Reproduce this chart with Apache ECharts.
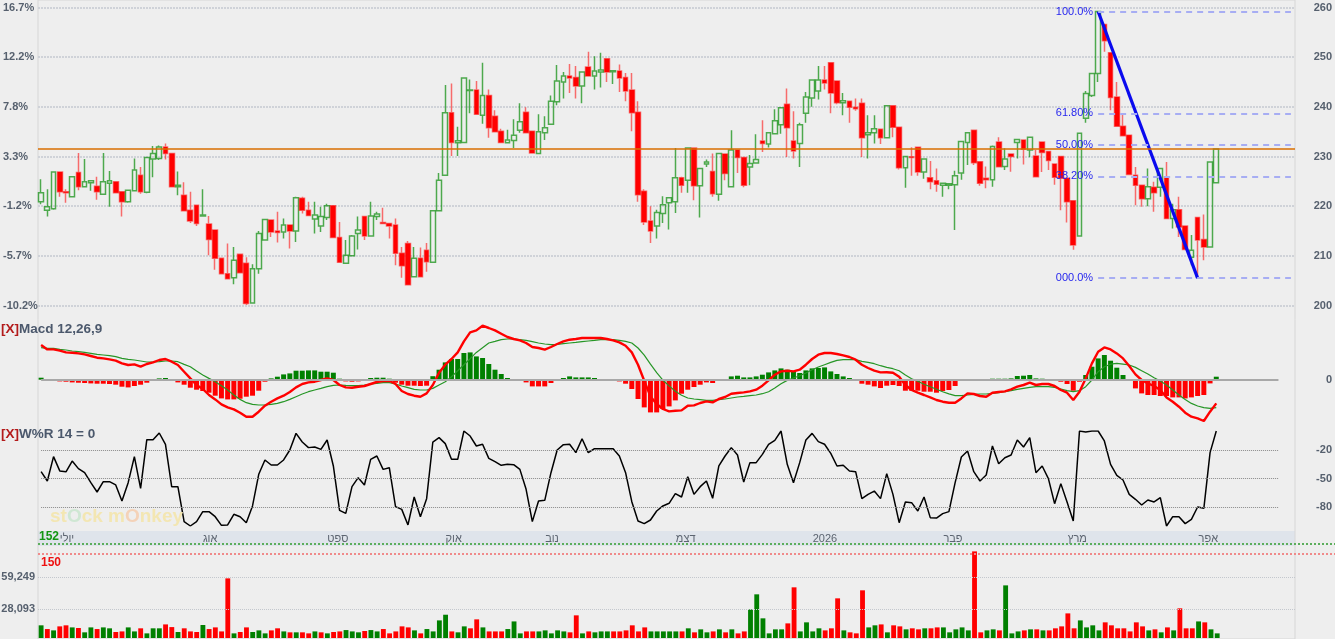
<!DOCTYPE html>
<html><head><meta charset="utf-8">
<script src="https://cdn.jsdelivr.net/npm/echarts@6/dist/echarts.min.js"></script>
<style>html,body{margin:0;padding:0;background:#eeeeee;}#c{width:1335px;height:639px;}</style>
</head><body><div id="c"></div>
<script>
// ---------------- data ----------------
const open = [220.9,219.2,219.5,226.9,222.9,221.9,226.8,223.9,224.7,224.0,
222.4,224.6,224.9,222.9,220.9,223.1,226.2,222.8,229.5,229.6,
231.9,230.6,223.9,222.2,219.2,220.2,218.0,216.4,215.2,209.5,
206.4,205.6,210.3,208.5,200.5,207.4,213.2,217.2,215.0,214.8,
216.2,215.0,221.6,219.2,217.4,216.0,217.7,220.1,213.7,208.5,
210.0,214.5,217.9,214.0,217.9,216.7,216.5,216.2,210.5,212.5,
205.8,209.5,211.1,208.7,219.1,226.2,238.8,232.75,232.8,243.3,
243.4,238.3,242.3,238.1,235.1,232.75,233.2,235.3,238.9,235.1,
230.6,234.8,236.5,241.0,245.0,246.2,245.9,244.2,248.0,246.2,
247.0,249.7,247.05,247.2,245.9,243.4,238.9,223.0,217.0,216.0,
218.5,220.7,220.9,225.7,225.2,231.7,224.1,228.5,227.0,222.4,
230.5,223.9,231.3,229.8,227.9,228.7,233.1,232.5,234.6,236.4,
240.5,233.1,232.6,238.7,241.8,243.2,245.4,248.9,245.2,240.8,
241.1,239.9,240.7,234.4,234.8,235.5,233.8,240.2,235.9,227.75,
229.95,231.85,226.9,225.7,225.1,224.2,224.2,224.3,226.7,232.8,
235.3,228.95,225.6,225.3,232.9,228.0,230.5,232.8,233.3,231.3,
230.1,232.9,231.0,228.5,230.0,225.6,221.1,214.0,237.7,242.3,
246.7,256.6,250.9,242.0,236.1,234.3,226.2,224.2,221.5,223.8,
223.8,225.9,217.5,219.3,216.0,209.7,217.7,213.3,211.8,224.7];
const close = [222.7,219.9,226.9,222.9,222.7,225.9,223.9,224.9,225.1,222.9,
224.9,225.1,222.7,220.9,223.2,227.3,222.9,229.8,230.6,231.9,
230.6,223.9,224.2,219.1,217.0,216.5,218.2,213.3,209.5,206.4,
205.4,209.1,206.6,200.4,207.4,214.5,217.3,214.8,214.7,216.2,
215.0,221.7,219.2,218.1,218.2,217.9,220.1,213.7,208.7,210.1,
214.0,215.2,214.0,218.0,218.4,216.5,216.0,210.5,208.0,204.2,
209.5,205.8,208.8,219.1,225.2,238.8,232.8,233.15,245.8,243.4,
238.5,242.3,235.8,235.0,232.8,233.3,234.3,237.0,234.8,230.7,
235.0,235.8,241.1,245.2,246.2,245.8,244.2,247.0,246.2,247.2,
247.4,247.0,247.25,245.8,243.2,238.8,222.3,216.8,215.0,218.7,
220.3,221.7,225.7,224.2,231.7,224.1,227.6,228.9,222.5,230.6,
226.6,231.3,229.8,224.2,228.6,229.4,232.6,234.8,237.2,239.8,
235.8,231.1,236.4,242.0,245.4,245.4,244.8,242.8,240.8,241.2,
239.9,239.6,233.8,234.8,235.6,233.8,240.2,235.9,227.75,230.0,
229.8,226.9,229.5,224.9,224.4,224.6,224.5,226.1,233.0,234.8,
228.75,224.6,225.3,232.0,227.95,229.5,230.0,233.4,231.45,233.9,
225.9,230.8,229.2,225.8,225.6,220.9,212.2,234.7,242.7,246.7,
259.2,253.3,241.9,236.1,234.2,226.4,224.2,221.5,223.9,222.7,
227.6,217.5,219.3,215.8,211.3,211.1,213.2,211.8,228.9,231.5];
const high = [225.4,223.4,227.0,227.0,223.4,225.9,230.7,229.5,225.2,225.9,
230.7,227.1,224.9,222.9,223.3,229.6,227.9,229.8,232.1,232.2,
232.6,230.6,227.0,224.8,222.9,220.2,223.4,218.0,215.2,209.5,
212.5,211.8,210.3,209.7,208.3,215.0,217.3,217.2,218.9,217.5,
216.2,221.9,221.9,220.9,220.9,219.9,220.5,220.1,216.8,213.2,
214.2,217.9,217.9,220.9,218.9,219.7,216.5,217.5,211.8,213.0,
211.8,211.7,212.6,219.1,226.7,244.4,244.7,236.0,245.9,245.5,
245.2,248.9,243.5,239.3,235.6,235.4,237.5,240.7,239.9,235.1,
238.5,238.1,242.3,248.4,247.0,248.6,248.2,247.0,251.1,250.2,
250.9,249.7,247.3,248.5,246.8,246.8,241.1,223.4,220.0,219.3,
222.0,221.7,231.7,225.9,231.7,231.7,227.6,229.4,230.6,230.6,
230.5,235.3,231.3,229.8,230.3,234.5,237.3,234.8,239.5,239.8,
243.7,239.1,236.8,243.0,245.4,248.2,248.2,248.9,245.2,242.8,
241.1,241.7,241.7,238.3,238.3,235.5,240.2,240.2,235.9,230.0,
231.85,231.85,229.5,229.1,227.6,224.6,224.5,227.15,233.0,234.8,
235.3,228.95,228.0,232.2,233.9,231.65,230.5,233.4,233.3,233.9,
231.3,232.9,231.0,228.5,230.0,225.6,221.1,234.7,243.2,246.7,
259.2,256.6,250.9,245.0,238.7,234.3,227.9,224.2,227.6,224.9,
227.6,228.9,220.5,221.9,216.0,214.2,217.7,218.3,228.9,231.5];
const low = [220.4,217.9,219.3,221.9,220.7,221.9,223.2,223.8,223.1,221.3,
222.4,219.9,222.7,217.9,220.7,223.1,222.5,222.6,225.8,229.3,
229.4,223.9,222.2,219.1,216.6,216.0,217.9,210.1,207.2,206.4,
205.4,204.3,206.6,200.1,200.5,206.4,213.2,213.8,212.7,213.5,
211.5,212.8,218.5,218.1,214.5,214.8,217.2,213.7,208.7,208.4,
210.0,211.3,213.2,214.0,217.2,216.4,213.5,208.1,205.6,204.2,
205.8,205.8,206.8,208.7,219.1,226.2,230.1,230.1,232.8,238.7,
238.5,236.6,233.8,234.9,232.8,232.6,231.7,234.8,234.8,230.7,
230.6,233.3,236.5,240.3,241.7,242.8,241.7,240.7,246.2,243.5,
243.9,245.0,244.6,243.0,241.1,235.1,220.9,216.2,212.6,213.5,
216.6,215.3,218.6,222.7,222.7,221.2,217.7,227.9,221.9,221.1,
225.2,223.9,226.7,223.8,224.2,228.6,230.9,231.8,234.6,234.6,
229.9,229.6,227.9,236.8,240.0,241.5,243.5,238.7,240.5,238.3,
236.8,239.2,229.9,229.6,232.6,232.5,233.8,233.9,227.4,223.7,
226.1,226.1,225.5,223.4,222.9,221.9,223.4,215.2,225.3,228.3,
228.3,224.1,223.6,223.9,227.95,227.3,226.95,229.6,228.4,229.85,
225.9,226.9,227.3,224.3,219.2,216.7,211.2,214.0,236.8,242.0,
245.0,251.1,239.3,236.1,234.2,226.4,220.2,219.9,220.0,218.9,
221.9,217.5,215.5,213.8,211.3,208.1,205.5,209.1,211.8,224.7];
const volume = [12300,8700,7400,11300,12300,10300,9700,5500,10300,8700,
10300,9400,5800,6400,10300,6400,9400,4500,9400,9400,
13200,10600,5800,9400,6400,5800,12600,8700,10300,6400,
57900,4500,5800,10300,5800,7400,4500,7400,9400,6400,
5500,5500,5500,4500,6400,5500,4500,5800,6400,7700,
6400,5500,6800,7700,6400,8700,4500,6400,11300,10300,
7400,4500,8700,6400,17100,22600,6400,5500,11300,9400,
18100,10300,6400,6400,6400,8700,16100,4500,6400,6400,
6400,7400,4500,7400,6400,5500,22000,4500,6400,5500,
6400,6400,6400,6400,7400,12300,6400,10300,6400,6400,
6400,6400,6400,6400,9400,5500,8400,5500,6400,8400,
5500,8400,4500,6400,27800,42400,19100,4500,8400,8400,
14200,49200,6400,15200,6400,9400,7400,9400,38500,7400,
5500,4500,46300,10300,12300,13200,5500,12300,11300,8400,
9400,8400,9400,9400,10300,10300,5500,8400,10300,7400,
84100,5500,7400,8400,7400,51100,4500,6400,7400,8400,
8400,7400,7400,9400,11300,23900,9400,17100,10300,12300,
7400,15200,12300,9400,9400,6400,15200,11300,7400,8400,
5500,10300,7400,28800,9400,9400,16100,15200,8400,4500];
const volumeDir = ("GRGRRGRGGR"+"GGRRGGRGGG"+"RRGRRRGRRR"+"RGRRGGGRRG"+"RGRRGRGRRG"+
"GGRGGRRRRR"+"GRGGGGRGGR"+"RGRRRGGGRR"+"GGGGGRRGRG"+"GGRRRRRRGG"+
"GGGRGRGGRG"+"RGRRGGGGGG"+"RRGGGGRRRG"+"RRRGGRGRRG"+"RRGRRGGGGG"+
"RRGGRGGGRG"+"RGRRRRRGGG"+"GRRRRRRRGR"+"GRGRRRGRGG").split('');
const macd = [3.47,3.03,3.03,2.9,2.73,2.7,2.63,2.53,2.37,2.2,
2.13,2.03,1.9,1.63,1.47,1.53,1.3,1.57,1.73,1.97,
2.07,1.8,1.47,0.8,0.13,-0.53,-0.93,-1.53,-1.97,-2.47,
-2.77,-2.97,-3.3,-3.7,-3.7,-3.2,-2.6,-2.2,-1.87,-1.6,
-1.23,-0.77,-0.43,-0.27,-0.2,-0.03,0.13,-0.03,-0.53,-0.77,
-0.8,-0.7,-0.63,-0.43,-0.23,-0.13,-0.1,-0.43,-1.13,-1.43,
-1.6,-1.7,-1.37,-0.53,0.7,1.5,2.07,2.73,3.83,4.73,
4.93,5.4,5.17,4.93,4.6,4.27,4.07,3.93,3.67,3.27,
3.17,3.0,3.27,3.57,3.83,4.0,4.07,4.17,4.17,4.17,
4.17,4.07,3.93,3.73,3.4,2.73,1.5,-0.1,-1.67,-2.43,
-2.93,-3.17,-3.1,-3.07,-2.6,-2.57,-2.33,-2.17,-2.27,-1.93,
-1.73,-1.4,-1.33,-1.27,-1.17,-1.0,-0.6,-0.07,0.5,0.83,
0.9,0.83,1.0,1.5,2.07,2.5,2.67,2.67,2.57,2.43,
2.27,2.0,1.5,1.17,0.9,0.73,0.75,0.7,0.3,-0.53,
-1.03,-1.3,-1.53,-1.77,-2.03,-2.2,-2.3,-2.3,-1.87,-1.37,
-1.43,-1.63,-1.7,-1.3,-1.23,-1.17,-0.97,-0.7,-0.53,-0.3,
-0.53,-0.43,-0.43,-0.63,-1.03,-1.3,-2.03,-1.2,0.13,1.63,
2.8,3.23,3.03,2.63,2.13,1.37,0.53,-0.03,-0.37,-0.63,
-1.03,-1.77,-2.2,-2.7,-3.3,-3.7,-3.87,-4.13,-3.2,-2.37];
const signal = [3.2,3.13,3.13,3.03,2.97,2.87,2.8,2.73,2.63,2.53,
2.47,2.4,2.3,2.13,2.03,1.97,1.87,1.77,1.77,1.8,
1.87,1.87,1.8,1.53,1.3,0.87,0.47,0.13,-0.2,-0.6,
-1.03,-1.53,-1.97,-2.3,-2.47,-2.53,-2.53,-2.47,-2.37,-2.2,
-1.97,-1.7,-1.43,-1.2,-1.03,-0.87,-0.7,-0.57,-0.53,-0.57,
-0.6,-0.6,-0.53,-0.43,-0.37,-0.3,-0.3,-0.43,-0.63,-0.8,
-0.97,-1.03,-1.03,-0.87,-0.53,-0.2,0.3,0.9,1.5,2.1,
2.73,3.2,3.67,3.83,4.0,4.07,4.07,4.0,3.93,3.8,
3.67,3.57,3.5,3.53,3.6,3.67,3.73,3.8,3.87,3.93,
4.0,4.0,4.0,3.93,3.83,3.67,3.17,2.45,1.55,0.7,
-0.05,-0.62,-1.15,-1.55,-1.83,-1.93,-2.0,-2.07,-2.07,-2.0,
-1.93,-1.83,-1.73,-1.67,-1.6,-1.53,-1.4,-1.2,-0.83,-0.4,
-0.07,0.17,0.4,0.67,1.0,1.27,1.5,1.73,1.93,2.0,
2.0,2.0,1.83,1.73,1.6,1.4,1.23,1.1,0.9,0.47,
0.1,-0.15,-0.45,-0.7,-0.95,-1.2,-1.42,-1.6,-1.6,-1.53,
-1.47,-1.43,-1.43,-1.37,-1.3,-1.2,-1.1,-0.97,-0.87,-0.77,
-0.7,-0.7,-0.7,-0.77,-0.93,-1.1,-1.2,-1.1,-0.7,-0.03,
0.8,1.3,1.55,1.63,1.55,1.47,1.23,0.9,0.57,0.2,
-0.13,-0.53,-1.03,-1.53,-1.97,-2.37,-2.63,-2.8,-2.87,-2.8];
const hist = [0.2,-0.05,0,-0.17,-0.2,-0.27,-0.3,-0.33,-0.37,-0.4,
-0.4,-0.43,-0.5,-0.7,-0.77,-0.63,-0.5,-0.3,0.07,0.13,
0.17,-0.1,-0.27,-0.5,-0.8,-1.0,-1.13,-1.3,-1.6,-1.87,
-1.97,-1.97,-1.9,-1.7,-1.6,-1.1,-0.2,0.13,0.3,0.53,
0.63,0.9,0.9,0.93,0.93,0.8,0.8,0.7,0.1,-0.17,
-0.2,-0.17,0.07,0.17,0.2,0.2,0.1,-0.3,-0.5,-0.6,
-0.6,-0.63,-0.6,0.35,1.0,1.73,2.07,2.07,2.67,2.73,
2.33,2.17,1.57,1.0,0.57,0.17,-0.07,-0.1,-0.27,-0.67,
-0.67,-0.67,-0.33,-0.07,0.17,0.33,0.23,0.23,0.23,0.17,
0.07,0,-0.07,-0.17,-0.4,-0.93,-1.93,-2.77,-3.27,-3.27,
-2.93,-2.67,-2.07,-1.4,-1.0,-0.73,-0.5,-0.27,-0.33,0,
0.07,0.33,0.4,0.23,0.23,0.33,0.5,0.73,0.93,1.13,
1.0,0.83,0.67,0.93,1.13,1.17,1.23,0.83,0.57,0.33,
0.17,0,-0.4,-0.5,-0.67,-0.83,-0.6,-0.53,-0.63,-1.1,
-1.1,-1.1,-1.2,-1.2,-1.3,-1.13,-1.03,-0.63,-0.13,0.07,
-0.03,-0.1,-0.1,0.1,0.1,0.1,0.13,0.37,0.4,0.47,
0.13,0.1,0.03,-0.1,-0.2,-0.43,-1.1,-0.2,0.47,1.3,
2.13,2.47,1.9,1.2,0.47,-0.13,-0.87,-1.37,-1.53,-1.53,
-1.63,-1.63,-1.77,-1.77,-1.87,-1.77,-1.63,-1.53,-0.37,0.3];
const williamsR = [-42.8,-52.6,-27,-42,-43,-31.6,-39.6,-43.9,-54.4,-64.2,
-53.3,-53.3,-56.8,-73.7,-54.4,-27,-60.4,-9.1,-9.1,-2.1,
-14,-58.6,-58.6,-95.4,-100,-95.4,-84.9,-84.9,-90.2,-99.3,
-98.9,-87.7,-90.2,-96.5,-78.9,-45.6,-30.5,-35.8,-35.8,-30.5,
-20,-2.5,-11.6,-17.5,-16.8,-19.3,-9.5,-36.8,-83.5,-86.7,
-58.6,-49.1,-56.8,-29.8,-26.3,-40.4,-38.6,-79.6,-82.5,-98.9,
-69.5,-90.2,-71.2,-11.6,-7,-13.3,-29.8,-29.8,0,-5.3,
-15.8,-14,-28.8,-32.3,-36.1,-35.1,-35.4,-40.4,-61.4,-95.4,
-73.7,-73,-43.9,-20,-14.4,-14,-22.8,-8.1,-22.8,-18.6,
-18.6,-18.6,-18.6,-26.3,-43.9,-74.4,-94.7,-97.5,-93.7,-84.2,
-78.9,-76.1,-66,-69.5,-48.1,-66.7,-58.6,-52.6,-70.9,-36.8,
-26.3,-17.5,-25.3,-53.7,-33.3,-33.3,-24.6,-14,-9.8,0,
-35.1,-54.4,-33.3,-9.5,-2.5,-11.2,-14,-23.5,-36.8,-36.1,
-42.1,-42.8,-71.2,-66.7,-63.2,-71.2,-44.9,-66.7,-96.5,-74.7,
-75.4,-84.2,-69.5,-91.2,-91.6,-87,-84.9,-54.4,-27.4,-21,
-42.8,-52.6,-46.3,-15.8,-34.4,-28.1,-25.3,-9.5,-16.8,-7,
-43.9,-36.8,-50.2,-76.5,-55.4,-74.7,-94.7,0,-1,0,
0,-10.5,-35.1,-46.7,-51.6,-66.7,-71.9,-77.9,-72.6,-74.7,
-70.2,-100,-90.2,-90.2,-97.5,-93,-80,-81.4,-22.8,0];

const N_CAT = 202;
const categories = Array.from({length: N_CAT}, (_, i) => String(i));
const monthTickIndex = [3, 26, 46, 65, 81, 102, 124, 145, 165, 186];
const monthTickLabel = ['יולי','אוג','ספט','אוק','נוב','דצמ','2026','פבר','מרץ','אפר'];
const pctTickLabels = ['-10.2%','-5.7%','-1.2%','3.3%','7.8%','12.2%','16.7%'];
const wrTickValues = [-20, -50, -80];
const volTickValues = [28093, 59249];
const fibRatios = [1, 0.618, 0.5, 0.382, 0];
const fibLabels = ['100.0%','61.80%','50.00%','38.20%','000.0%'];
const fibHigh = 259.2, fibLow = 205.5, fibHighIdx = 170, fibLowIdx = 186;
const sepLevels = [152, 150];
const lastClose = close[close.length - 1];
const lastWR = williamsR[williamsR.length - 1];

// ---------------- chart ----------------
const FF = "'Liberation Sans', Arial, sans-serif";
const GL = 38, GR = 40;
const axisLblColor = '#56606e';
const chart = echarts.init(document.getElementById('c'), null, {renderer: 'canvas'});
const hidCat = gi => ({type: 'category', gridIndex: gi, data: categories, boundaryGap: true, show: false});
const endCat = categories[199];
const firstCat = categories[0], lastCat = categories[N_CAT - 1];

const fibLines = fibRatios.map((r, i) => {
  const lvl = fibLow + r * (fibHigh - fibLow);
  return [
    {coord: [categories[fibHighIdx], lvl],
     lineStyle: {color: '#a7adf3', type: [6, 5], width: 2, opacity: 1},
     label: {show: true, position: 'start', formatter: fibLabels[i], color: '#2626ee', fontSize: 11, fontFamily: FF, distance: 5}},
    {coord: [lastCat, lvl]}
  ];
});

const option = {
  backgroundColor: '#eeeeee',
  animation: false,
  textStyle: {fontFamily: FF},
  title: [
    {left: 1, top: 321, padding: 0, text: '{x|[X]}{t|Macd 12,26,9}',
     textStyle: {rich: {x: {color: '#b31b1b', fontWeight: 'bold', fontSize: 13.5, fontFamily: FF, lineHeight: 16},
                        t: {color: '#4b586c', fontWeight: 'bold', fontSize: 13.5, fontFamily: FF, lineHeight: 16}}}},
    {left: 1, top: 426, padding: 0, text: '{x|[X]}{t|W%R 14 = ' + lastWR + '}',
     textStyle: {rich: {x: {color: '#b31b1b', fontWeight: 'bold', fontSize: 13.5, fontFamily: FF, lineHeight: 16},
                        t: {color: '#4b586c', fontWeight: 'bold', fontSize: 13.5, fontFamily: FF, lineHeight: 16}}}},
    {left: 50, top: 507, padding: 0, text: '{a|st}{b|O}{a|ck m}{c|O}{a|nkey}',
     textStyle: {rich: {a: {color: '#f3e6b2', fontWeight: 'bold', fontSize: 19, fontFamily: FF, lineHeight: 19},
                        b: {color: '#cfe7d3', fontWeight: 'bold', fontSize: 19, fontFamily: FF, lineHeight: 19},
                        c: {color: '#f4d2b8', fontWeight: 'bold', fontSize: 19, fontFamily: FF, lineHeight: 19}}}}
  ],
  grid: [
    {left: GL, right: GR, top: 7.5, height: 298},
    {left: GL, right: GR, top: 319.7, height: 110},
    {left: GL, right: GR, top: 431, height: 95},
    {left: GL, right: GR, top: 531, height: 15, show: true, backgroundColor: '#dfe4eb', borderWidth: 0},
    {left: GL, right: GR, top: 545, height: 93},
    {left: GL, right: 0, top: 538.6, height: 19.6},
    {left: GL, right: GR, top: -5, bottom: -5, show: true, borderColor: '#d6d6d6', borderWidth: 1, backgroundColor: 'transparent'}
  ],
  xAxis: [
    hidCat(0), hidCat(1), hidCat(2),
    {type: 'category', gridIndex: 3, data: categories, boundaryGap: true, position: 'top',
     axisLine: {show: false}, axisTick: {show: false}, splitLine: {show: false},
     axisLabel: {show: true, inside: true, margin: 2, align: 'left', verticalAlign: 'top', color: '#5c6470', fontSize: 11, fontFamily: FF,
       interval: (i) => monthTickIndex.indexOf(i) >= 0,
       formatter: (v, i) => { const k = monthTickIndex.indexOf(i); return k >= 0 ? monthTickLabel[k] : ''; }}},
    hidCat(4),
    {type: 'value', gridIndex: 5, min: 0, max: 1, show: false},
    {type: 'value', gridIndex: 6, min: 0, max: 1, show: false}
  ],
  yAxis: [
    {type: 'value', gridIndex: 0, position: 'right', min: 200, max: 260, interval: 10,
     axisLine: {show: false}, axisTick: {show: false},
     axisLabel: {align: 'right', margin: 38, color: axisLblColor, fontSize: 11, fontWeight: 'bold', fontFamily: FF},
     splitLine: {show: true, lineStyle: {color: '#cfd2d8', width: 2, type: [2, 1]}}},
    {type: 'value', gridIndex: 0, position: 'left', min: 200, max: 260, interval: 10,
     axisLine: {show: false}, axisTick: {show: false}, splitLine: {show: false},
     axisLabel: {align: 'left', margin: 35, color: axisLblColor, fontSize: 11, fontWeight: 'bold', fontFamily: FF,
       formatter: v => pctTickLabels[Math.round((v - 200) / 10)] || ''}},
    {type: 'value', gridIndex: 1, position: 'right', min: -5, max: 6, interval: 1,
     axisLine: {show: false}, axisTick: {show: false}, splitLine: {show: false},
     axisLabel: {align: 'right', margin: 38, color: axisLblColor, fontSize: 11, fontWeight: 'bold', fontFamily: FF,
       formatter: v => v === 0 ? '0' : ''}},
    {type: 'value', gridIndex: 2, position: 'right', min: -100, max: 0, interval: 10,
     axisLine: {show: false}, axisTick: {show: false}, splitLine: {show: false},
     axisLabel: {align: 'right', margin: 38, color: axisLblColor, fontSize: 11, fontWeight: 'bold', fontFamily: FF,
       formatter: v => wrTickValues.indexOf(v) >= 0 ? String(v) : ''}},
    {type: 'value', gridIndex: 3, min: 0, max: 1, show: false},
    {type: 'value', gridIndex: 4, min: 0, max: 90300, show: false},
    {type: 'value', gridIndex: 5, min: 149, max: 153, show: false},
    {type: 'value', gridIndex: 6, min: 0, max: 1, show: false}
  ],
  series: [
    {type: 'candlestick', name: 'price', xAxisIndex: 0, yAxisIndex: 0, barWidth: 5.2,
     data: open.map((o, i) => [o, close[i], low[i], high[i]]),
     itemStyle: {color: 'rgba(0,0,0,0)', color0: '#ff0000', borderColor: 'rgba(0,135,0,0.68)', borderColor0: 'rgba(255,0,0,0.55)', borderWidth: 1.5},
     markLine: {symbol: ['none', 'none'], silent: true, animation: false, data: fibLines}},
    {type: 'line', name: 'lastPrice', xAxisIndex: 0, yAxisIndex: 0, z: 20, zlevel: 1, symbol: 'none', silent: true,
     data: [], lineStyle: {color: '#d86e00'}, itemStyle: {color: '#d86e00'},
     markLine: {symbol: ['none', 'none'], silent: true, animation: false, z: 20,
       data: [
         [{coord: [firstCat, lastClose], x: GL, lineStyle: {color: '#d86e00', width: 1.5, type: 'solid', opacity: 1}, label: {show: false}},
          {coord: [lastCat, lastClose], x: 1335 - GR}],
         [{coord: [lastCat, lastClose - 1.1], lineStyle: {color: 'rgba(238,238,238,0)', width: 1, type: 'solid', opacity: 0},
           label: {show: true, position: 'end', distance: 1, formatter: lastClose.toFixed(2), backgroundColor: '#c6c6c6',
                   color: '#111', fontWeight: 'bold', fontSize: 12, fontFamily: FF, padding: [5, 2, 5, 2]}},
          {coord: [lastCat, lastClose - 1.1], x: 1335 - GR}]
       ]}},
    {type: 'line', name: 'trend', xAxisIndex: 0, yAxisIndex: 0, z: 4, symbol: 'circle', symbolSize: 0,
     lineStyle: {color: '#0a0aee', width: 3.2},
     data: [[categories[fibHighIdx], fibHigh],
            {value: [categories[fibLowIdx], fibLow], symbol: 'circle', symbolSize: 11,
             itemStyle: {color: 'rgba(125,135,235,0.5)', borderColor: 'rgba(110,120,230,0.6)', borderWidth: 1}}]},
    {type: 'bar', name: 'hist', xAxisIndex: 1, yAxisIndex: 2, barWidth: '80%',
     data: hist.map(v => ({value: v, itemStyle: {color: v >= 0 ? '#008000' : '#ff0000'}})),
     markLine: {symbol: ['none', 'none'], silent: true, label: {show: false},
       lineStyle: {color: '#a8a8a8', width: 2, type: 'solid'},
       data: [[{coord: [firstCat, 0]}, {coord: [endCat, 0]}]]}},
    {type: 'line', name: 'macd', xAxisIndex: 1, yAxisIndex: 2, symbol: 'none', z: 4,
     lineStyle: {color: '#ff0000', width: 2.4}, data: macd},
    {type: 'line', name: 'signal', xAxisIndex: 1, yAxisIndex: 2, symbol: 'none', z: 3,
     lineStyle: {color: '#269626', width: 1.2}, data: signal},
    {type: 'line', name: 'wr', xAxisIndex: 2, yAxisIndex: 3, symbol: 'none',
     lineStyle: {color: '#000000', width: 1.5}, data: williamsR,
     markLine: {symbol: ['none', 'none'], silent: true, label: {show: false},
       lineStyle: {color: '#8a8a8a', width: 1, type: 'dotted'},
       data: wrTickValues.map(v => [{coord: [firstCat, v]}, {coord: [endCat, v]}])}},
    {type: 'bar', name: 'volume', xAxisIndex: 4, yAxisIndex: 5, barWidth: '78%',
     data: volume.map((v, i) => ({value: v, itemStyle: {color: volumeDir[i] === 'G' ? '#008000' : '#ff0000'}})),
     markLine: {symbol: ['none', 'none'], silent: true,
       lineStyle: {color: '#c3c7cd', width: 1, type: 'dotted'},
       data: volTickValues.map(v => ({yAxis: v,
         label: {show: true, position: 'start', distance: 3, formatter: v.toLocaleString('en-US'),
                 color: axisLblColor, fontSize: 11, fontWeight: 'bold', fontFamily: FF}}))}},
    {type: 'line', name: 'sep', xAxisIndex: 5, yAxisIndex: 6, data: [[0, 151]], symbol: 'none', silent: true,
     lineStyle: {opacity: 0},
     markLine: {symbol: ['none', 'none'], silent: true,
       data: [
         {yAxis: sepLevels[0], lineStyle: {color: '#5cae5c', width: 2, type: 'dotted'},
          label: {show: true, position: 'insideStartTop', distance: 1, formatter: String(sepLevels[0]), color: '#139613', fontWeight: 'bold', fontSize: 12, fontFamily: FF}},
         {yAxis: sepLevels[1], lineStyle: {color: '#f08a8a', width: 2, type: 'dotted'},
          label: {show: true, position: 'insideStartBottom', distance: 3, formatter: String(sepLevels[1]), color: '#ee1111', fontWeight: 'bold', fontSize: 12, fontFamily: FF}}
       ]}}
  ]
};
chart.setOption(option);
</script></body></html>
